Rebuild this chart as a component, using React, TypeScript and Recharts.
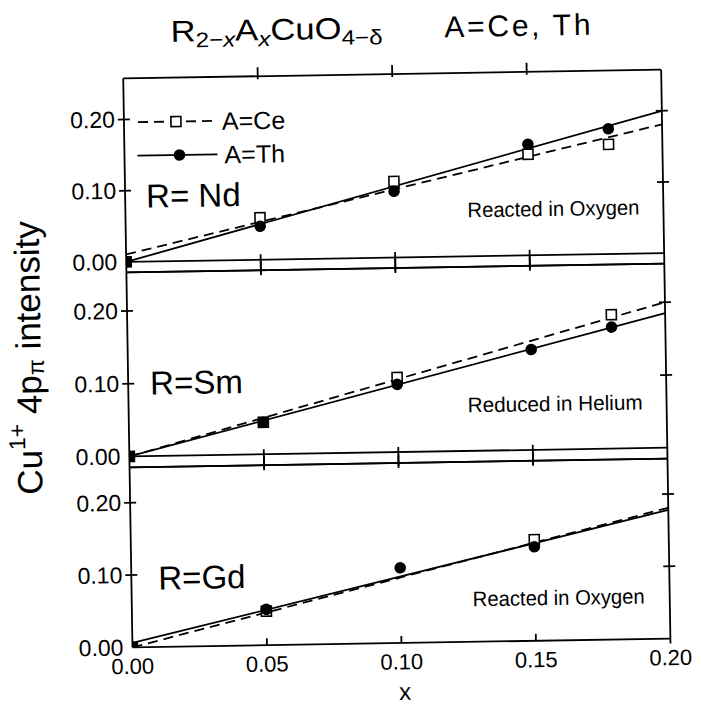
import React from 'react';
import { ComposedChart, XAxis, YAxis, Scatter, ReferenceLine } from 'recharts';

const FONT = '"Liberation Sans", Arial, sans-serif';

// shared axes
const xLabelTicks = [0, 0.05, 0.1, 0.15, 0.2];
const xInnerTicks = [0.05, 0.1, 0.15];
const yLabelTicks = [0, 0.1, 0.2];
const yInnerTicks = [0.1, 0.2];
const fitX = [0, 0.2];

// R = Nd (reacted in oxygen)
const ndCeX = [0, 0.05, 0.1, 0.15, 0.18];
const ndCeY = [0, 0.059, 0.107, 0.142, 0.154];
const ndThX = [0, 0.05, 0.1, 0.15, 0.18];
const ndThY = [0, 0.047, 0.093, 0.156, 0.176];
const ndCeFit = [0.0105, 0.181];
const ndThFit = [0, 0.2];

// R = Sm (reduced in helium)
const smCeX = [0, 0.05, 0.1, 0.18];
const smCeY = [0, 0.044, 0.1025, 0.184];
const smThX = [0, 0.05, 0.1, 0.15, 0.18];
const smThY = [0, 0.044, 0.093, 0.138, 0.167];
const smCeFit = [0, 0.2];
const smThFit = [0, 0.185];

// R = Gd (reacted in oxygen)
const gdCeX = [0, 0.05, 0.15];
const gdCeY = [0, 0.047, 0.14];
const gdThX = [0, 0.05, 0.1, 0.15];
const gdThY = [0, 0.0495, 0.104, 0.13];
const gdCeFit = [0, 0.181];
const gdThFit = [0.006, 0.178];

const toPts = (xs: number[], ys: number[]) => xs.map((x, i) => ({ x, y: ys[i] }));

const LW = 1.8;

const SquareShape = (p: any) => {
  const { cx, cy, payload } = p;
  const filled = payload && payload.x === 0;
  return <rect x={cx - 5} y={cy - 5} width={10} height={10} fill={filled ? '#000' : '#fff'} stroke="#000" strokeWidth={1.6} />;
};
const DotShape = (p: any) => <circle cx={p.cx} cy={p.cy} r={5.8} fill="#000" />;
const NoShape = () => <g />;

const LeftTick = (p: any) => {
  const { x, y, payload } = p;
  return (
    <g>
      {payload.value !== 0 && <line x1={x - 6} x2={x + 6} y1={y} y2={y} stroke="#000" strokeWidth={LW} />}
      <text x={x - 9} y={y} textAnchor="end" dominantBaseline="central" fontFamily={FONT} fontSize={23} fill="#000">
        {Number(payload.value).toFixed(2)}
      </text>
    </g>
  );
};
const RightTick = (p: any) => (
  <line x1={p.x - 6} x2={p.x + 6} y1={p.y} y2={p.y} stroke="#000" strokeWidth={LW} />
);
const TopTick = (p: any) => (
  <line x1={p.x} x2={p.x} y1={p.y - 9} y2={p.y + 3} stroke="#000" strokeWidth={LW} />
);
const MidBottomTick = (p: any) => (
  <line x1={p.x} x2={p.x} y1={p.y - 16} y2={p.y + 5} stroke="#000" strokeWidth={LW} />
);
const LabelBottomTick = (p: any) => {
  const { x, y, payload } = p;
  const v = payload.value;
  return (
    <g>
      {v > 0 && v < 0.2 && <line x1={x} x2={x} y1={y - 7} y2={y} stroke="#000" strokeWidth={LW} />}
      {v === 0.2 && <line x1={x} x2={x} y1={y} y2={y + 5} stroke="#000" strokeWidth={LW} />}
      <text x={x} y={y + 19} textAnchor="middle" dominantBaseline="central" fontFamily={FONT} fontSize={22} fill="#000">
        {Number(v).toFixed(2)}
      </text>
    </g>
  );
};

type PanelProps = {
  top: number;
  plotH: number;
  yDomain: [number, number];
  ce: { x: number; y: number }[];
  th: { x: number; y: number }[];
  ceFit: number[];
  thFit: number[];
  zeroLine: boolean;
  bottomLabels: boolean;
};

const Panel = ({ top, plotH, yDomain, ce, th, ceFit, thFit, zeroLine, bottomLabels }: PanelProps) => {
  const bottomH = bottomLabels ? 50 : 10;
  const ceLine = toPts(fitX, ceFit);
  const thLine = toPts(fitX, thFit);
  const axisLine = { stroke: '#000', strokeWidth: LW };
  return (
    <div style={{ position: 'absolute', left: 0, top }}>
      <ComposedChart width={701} height={10 + plotH + bottomH} margin={{ top: 0, right: 0, bottom: 0, left: 0 }}>
        <XAxis xAxisId="t" orientation="top" type="number" dataKey="x" domain={[0, 0.2]} ticks={xInnerTicks}
          height={10} tick={<TopTick />} tickSize={0} tickMargin={0} tickLine={false} axisLine={axisLine} allowDataOverflow />
        <XAxis xAxisId="b" orientation="bottom" type="number" dataKey="x" domain={[0, 0.2]}
          ticks={bottomLabels ? xLabelTicks : xInnerTicks} height={bottomH}
          tick={bottomLabels ? <LabelBottomTick /> : <MidBottomTick />} tickSize={0} tickMargin={0} tickLine={false}
          axisLine={axisLine} allowDataOverflow interval={0} />
        <YAxis yAxisId="l" orientation="left" type="number" dataKey="y" domain={yDomain} ticks={yLabelTicks}
          width={128} tick={<LeftTick />} tickSize={0} tickMargin={0} tickLine={false} axisLine={axisLine} allowDataOverflow interval={0} />
        <YAxis yAxisId="r" orientation="right" type="number" dataKey="y" domain={yDomain} ticks={yInnerTicks}
          width={35} tick={<RightTick />} tickSize={0} tickMargin={0} tickLine={false} axisLine={axisLine} allowDataOverflow interval={0} />
        {zeroLine && <ReferenceLine xAxisId="b" yAxisId="l" y={0} stroke="#000" strokeWidth={LW} />}
        <Scatter xAxisId="b" yAxisId="l" data={ceLine} fill="#000" shape={NoShape}
          line={{ stroke: '#000', strokeWidth: LW, strokeDasharray: '10 6' }} isAnimationActive={false} />
        <Scatter xAxisId="b" yAxisId="l" data={thLine} fill="#000" shape={NoShape}
          line={{ stroke: '#000', strokeWidth: LW }} isAnimationActive={false} />
        <Scatter xAxisId="b" yAxisId="l" data={ce} shape={SquareShape} isAnimationActive={false} />
        <Scatter xAxisId="b" yAxisId="l" data={th} shape={DotShape} isAnimationActive={false} />
      </ComposedChart>
    </div>
  );
};

const T = (props: any) => <text fontFamily={FONT} fill="#000" {...props} />;

export default function App() {
  return (
    <div style={{ position: 'absolute', left: 0, top: 0, width: 701, height: 706, overflow: 'hidden', background: '#fff' }}>
      <div style={{ position: 'absolute', left: 0, top: 0, width: 701, height: 706, transform: 'rotate(-0.93deg)', transformOrigin: '397px 370px' }}>
        <Panel top={64} plotH={194} yDomain={[-0.0147, 0.2577]} ce={toPts(ndCeX, ndCeY)} th={toPts(ndThX, ndThY)}
          ceFit={ndCeFit} thFit={ndThFit} zeroLine bottomLabels={false} />
        <Panel top={258} plotH={195} yDomain={[-0.015, 0.253]} ce={toPts(smCeX, smCeY)} th={toPts(smThX, smThY)}
          ceFit={smCeFit} thFit={smThFit} zeroLine bottomLabels={false} />
        <Panel top={453} plotH={180} yDomain={[0, 0.249]} ce={toPts(gdCeX, gdCeY)} th={toPts(gdThX, gdThY)}
          ceFit={gdCeFit} thFit={gdThFit} zeroLine={false} bottomLabels />
        <svg width={701} height={706} style={{ position: 'absolute', left: 0, top: 0, pointerEvents: 'none' }}>
          {/* title */}
          <T x={176} y={38} fontSize={30} textLength={212} lengthAdjust="spacingAndGlyphs">
            R<tspan fontSize={21} dy={6}>2−</tspan><tspan fontSize={21} fontStyle="italic">x</tspan>
            <tspan dy={-6}>A</tspan><tspan fontSize={21} fontStyle="italic" dy={6}>x</tspan>
            <tspan dy={-6}>CuO</tspan><tspan fontSize={21} dy={6}>4−δ</tspan>
          </T>
          <T x={450} y={38} fontSize={30} textLength={146} lengthAdjust="spacing">A=Ce, Th</T>
          {/* y axis label */}
          <T x={28} y={352} fontSize={35} textAnchor="middle" dominantBaseline="central" transform="rotate(-90 28 352)">
            Cu<tspan fontSize={23} dy={-12}>1+</tspan><tspan dy={12}> 4p</tspan><tspan fontSize={23} dy={8}>π</tspan><tspan dy={-8}> intensity</tspan>
          </T>
          {/* x axis label */}
          <T x={400} y={700} fontSize={24} textAnchor="middle">x</T>
          {/* legend */}
          <line x1={142} x2={217} y1={118} y2={118} stroke="#000" strokeWidth={LW} strokeDasharray="10 6" />
          <rect x={175} y={113} width={10} height={10} fill="#fff" stroke="#000" strokeWidth={1.6} />
          <T x={226} y={118} fontSize={25} dominantBaseline="central">A=Ce</T>
          <line x1={141} x2={221} y1={151.5} y2={151.5} stroke="#000" strokeWidth={LW} />
          <circle cx={183} cy={151.5} r={5.8} fill="#000" />
          <T x={228} y={151.5} fontSize={25} dominantBaseline="central">A=Th</T>
          {/* panel labels */}
          <T x={149} y={192} fontSize={33} dominantBaseline="central">R= Nd</T>
          <T x={150} y={379} fontSize={33} dominantBaseline="central">R=Sm</T>
          <T x={155} y={574} fontSize={33} dominantBaseline="central">R=Gd</T>
          <T x={642} y={211} fontSize={21} textAnchor="end" dominantBaseline="central" textLength={172} lengthAdjust="spacingAndGlyphs">Reacted in Oxygen</T>
          <T x={642} y={406} fontSize={21} textAnchor="end" dominantBaseline="central" textLength={175} lengthAdjust="spacingAndGlyphs">Reduced in Helium</T>
          <T x={641} y={600} fontSize={21} textAnchor="end" dominantBaseline="central" textLength={172} lengthAdjust="spacingAndGlyphs">Reacted in Oxygen</T>
        </svg>
      </div>
    </div>
  );
}
